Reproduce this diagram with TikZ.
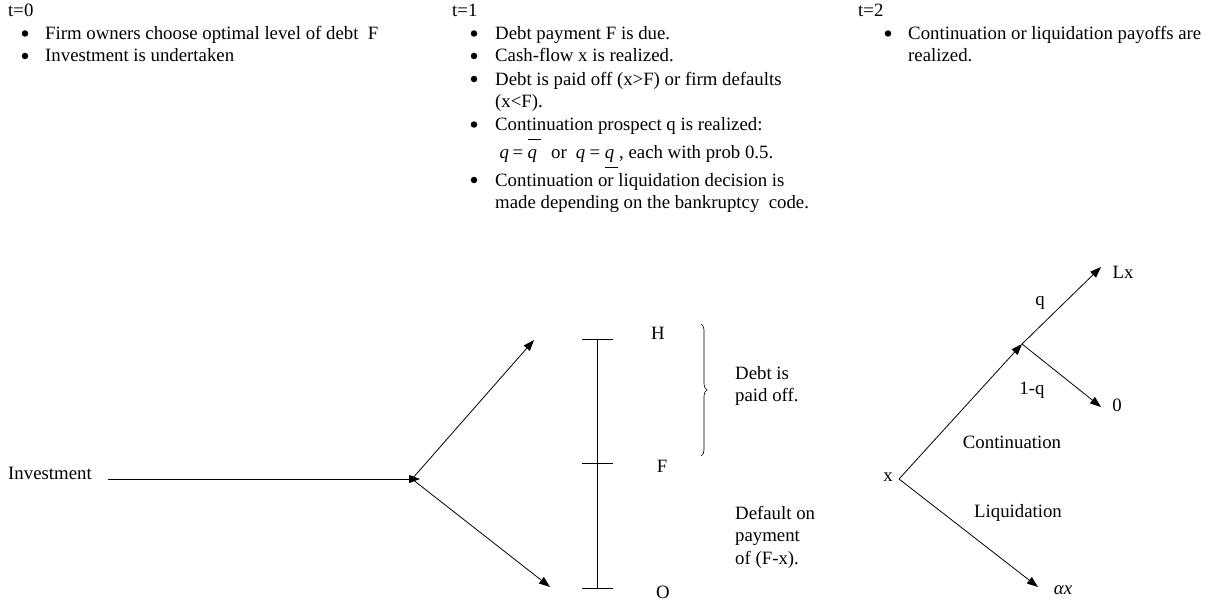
\documentclass[tikz,border=0pt]{standalone}
\usepackage{fontspec}
\setmainfont{Liberation Serif}
\usetikzlibrary{arrows.meta,decorations.pathreplacing}
\newcommand\myqbar{\rlap{\kern0.6pt\rule[18.5pt]{12.5pt}{0.8pt}}{\itshape q}}
\newcommand\myqund{\rlap{\kern0.6pt\rule[-10pt]{12.5pt}{0.8pt}}{\itshape q}}
\begin{document}
\begin{tikzpicture}[x=1pt,y=-1pt,
  txt/.style={anchor=base west,inner sep=0pt,font=\fontsize{18.8}{22.8}\selectfont},
  lbl/.style={anchor=base,inner sep=0pt,font=\fontsize{18.8}{22.8}\selectfont},
  bul/.style={circle,fill=black,inner sep=0pt,minimum size=6.5pt},
  conn/.style={line width=0.8pt,-{Triangle[length=11pt,width=8pt]}},
  bar/.style={line width=1pt}]
\useasboundingbox (0,0) rectangle (1215,602);
% ---- t=0 column
\node[txt] (t0) at (8,16.5) {t=0};
\node[bul] (b01) at (25,33.5) {};
\node[txt] (l01) at (45,39.5) {Firm owners choose optimal level of debt\ \ F};
\node[bul] (b02) at (25,56) {};
\node[txt] (l02) at (45,62) {Investment is undertaken};
% ---- t=1 column
\node[txt] (t1) at (452,16.5) {t=1};
\node[bul] (b11) at (474,33.5) {};
\node[txt] (l11) at (495,39.5) {Debt payment F is due.};
\node[bul] (b12) at (474,56) {};
\node[txt] (l12) at (495,62) {Cash-flow x is realized.};
\node[bul] (b13) at (474,79) {};
\node[txt] (l13) at (495,85) {Debt is paid off (x>F) or firm defaults};
\node[txt] (l13b) at (495,107.5) {(x<F).};
\node[bul] (b14) at (474,124.5) {};
\node[txt] (l14) at (495,130.5) {Continuation prospect q is realized:};
\node[txt] (l14b) at (499.5,158) {{\itshape q}\hspace{3.5pt}=\hspace{4.5pt}\myqbar\hspace{14pt}or\hspace{9pt}{\itshape q}\hspace{4.5pt}=\hspace{4.5pt}\myqund\hspace{5pt}, each with prob 0.5.};
\node[bul] (b15) at (474,180) {};
\node[txt] (l15) at (495,186) {Continuation or liquidation decision is};
\node[txt] (l15b) at (495,208.5) {made depending on the bankruptcy\ \ code.};
% ---- t=2 column
\node[txt] (t2) at (858,16.5) {t=2};
\node[bul] (b21) at (888,33.5) {};
\node[txt] (l21) at (908,39.5) {Continuation or liquidation payoffs are};
\node[txt] (l21b) at (908,62) {realized.};
% ---- left fork
\node[txt] (inv) at (8,479.5) {Investment};
\coordinate (h0) at (108,479);
\coordinate (htip) at (420,479);
\coordinate (fork) at (412,479);
\coordinate (up) at (534,340);
\coordinate (dn) at (550,587);
\draw[conn] (h0) -- (htip);
\draw[conn] (fork) -- (up);
\draw[conn] (fork) -- (dn);
% ---- scale bar
\coordinate (vtop) at (597,339);
\coordinate (vmid) at (597,463);
\coordinate (vbot) at (597,588);
\draw[bar] (vtop) -- (vbot);
\draw[bar] ([xshift=-15pt]vtop) -- ([xshift=16pt]vtop);
\draw[bar] ([xshift=-15pt]vmid) -- ([xshift=16pt]vmid);
\draw[bar] ([xshift=-15pt]vbot) -- ([xshift=16pt]vbot);
\node[lbl] (H) at (658,339.5) {H};
\node[lbl] (F) at (662,472.5) {F};
\node[lbl] (O) at (663,598) {O};
\coordinate (brt) at (701,324);
\coordinate (brb) at (701,456);
\draw[line width=0.6pt,decorate,decoration={brace,amplitude=6pt}] (brt) -- (brb);
\node[txt] (d1) at (735,379) {Debt is};
\node[txt] (d2) at (735,401.5) {paid off.};
\node[txt] (e1) at (735,519) {Default on};
\node[txt] (e2) at (735,541.5) {payment};
\node[txt] (e3) at (735,564) {of (F-x).};
% ---- right tree
\node[lbl] (xl) at (888,481) {x};
\coordinate (root) at (899,479);
\coordinate (mid) at (1022,344);
\coordinate (lxt) at (1101,267);
\coordinate (zt) at (1101,407);
\coordinate (axt) at (1038,587);
\draw[conn] (root) -- (mid);
\draw[conn] (mid) -- (lxt);
\draw[conn] (mid) -- (zt);
\draw[conn] (root) -- (axt);
\node[lbl] (Lx) at (1123,278) {Lx};
\node[lbl] (zero) at (1117,411.5) {0};
\node[lbl] (q) at (1040,305) {q};
\node[lbl] (omq) at (1032,394) {1-q};
\node[lbl] (cont) at (1012,448) {Continuation};
\node[lbl] (liq) at (1018,517) {Liquidation};
\node[lbl] (ax) at (1063,594) {\itshape αx};
\end{tikzpicture}
\end{document}
